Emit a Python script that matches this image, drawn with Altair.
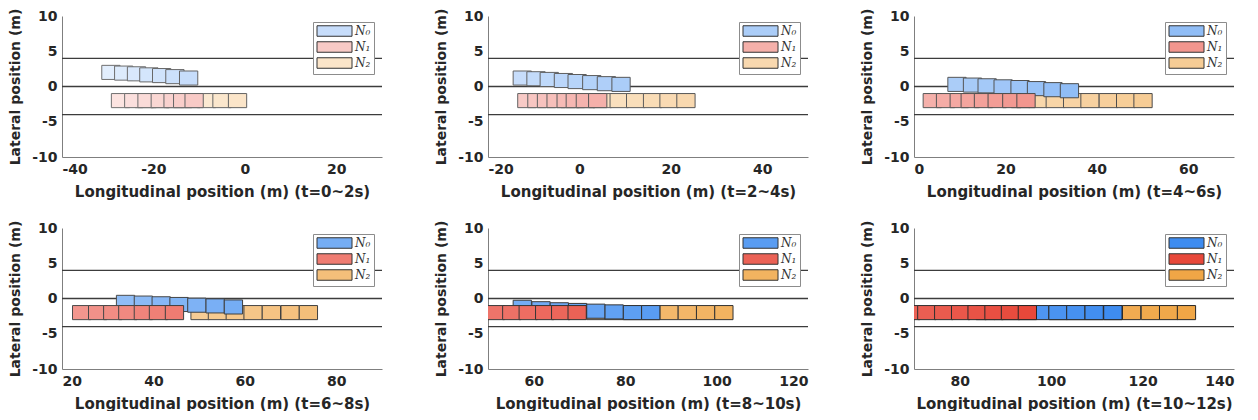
import altair as alt
import pandas as pd

# ---------------- data ----------------
time_labels = ["t=0~2s", "t=2~4s", "t=4~6s", "t=6~8s", "t=8~10s", "t=10~12s"]
x_min = [-40, -20, 0, 20, 50, 70]
x_max = [30, 50, 70, 90, 120, 140]
x_ticks = [[-40, -20, 0, 20], [-20, 0, 20, 40], [0, 20, 40, 60],
           [20, 40, 60, 80], [60, 80, 100, 120], [80, 100, 120, 140]]
y_ticks = [-10, -5, 0, 5, 10]
lane_lines = [4, 0, -4]
vehicle_names = ["N₀", "N₁", "N₂"]

# rear (left) longitudinal position of each snapshot, per panel
n0_rear_x = [
    [-31.3, -28.5, -25.7, -23.0, -20.2, -17.3, -14.3],
    [-14.5, -11.5, -8.6, -5.5, -2.5, 0.7, 3.9, 7.1],
    [7.4, 10.8, 14.0, 17.5, 21.2, 24.8, 28.4, 32.0],
    [31.9, 35.8, 39.7, 43.6, 47.5, 51.5, 55.5],
    [55.5, 59.6, 63.6, 67.6, 71.6, 75.6, 79.6, 83.6],
    [83.6, 87.5, 91.5, 95.5, 99.5, 103.4, 107.4, 111.5],
]
n0_center_y = [
    [2.0, 1.9, 1.8, 1.65, 1.55, 1.4, 1.2],
    [1.2, 1.1, 1.0, 0.85, 0.7, 0.55, 0.4, 0.3],
    [0.3, 0.2, 0.1, -0.05, -0.15, -0.3, -0.45, -0.6],
    [-0.55, -0.65, -0.75, -0.85, -0.95, -1.05, -1.2],
    [-1.25, -1.45, -1.6, -1.7, -1.8, -1.9, -2.0, -2.0],
    [-2.0, -2.0, -2.0, -2.0, -2.0, -2.0, -2.0, -2.0],
]
n1_rear_x = [
    [-29.2, -26.3, -23.4, -20.5, -17.7, -15.6, -13.1],
    [-13.5, -11.3, -9.2, -7.1, -4.9, -2.9, -0.7, 2.0],
    [2.0, 4.9, 7.9, 10.3, 13.2, 16.2, 19.4, 22.5],
    [22.3, 25.8, 29.1, 32.4, 35.8, 39.1, 42.6],
    [42.6, 46.1, 49.6, 53.2, 56.8, 60.4, 63.9, 67.5],
    [67.3, 70.8, 74.5, 78.2, 81.8, 85.5, 89.1, 92.8],
]
n2_rear_x = [
    [-24.0, -20.6, -17.2, -13.8, -10.4, -7.0, -3.6],
    [-4.0, -0.6, 3.0, 6.7, 10.3, 14.0, 17.6, 21.3],
    [21.3, 25.1, 28.9, 32.7, 36.5, 40.5, 44.3, 48.1],
    [48.2, 52.0, 55.9, 59.8, 63.8, 67.9, 71.9],
    [71.6, 75.6, 79.6, 83.6, 87.6, 91.6, 95.6, 99.6],
    [99.6, 103.6, 107.6, 111.6, 115.6, 119.7, 123.7, 127.6],
]
n1_center_y = -2.0
n2_center_y = -2.0

# ---------------- styles ----------------
VEH_LEN = 4.0
VEH_WID = 2.0
base_rgb = {"N₀": (62, 140, 240), "N₁": (232, 72, 58), "N₂": (240, 166, 70)}
draw_rank = {"N₂": 0, "N₀": 1, "N₁": 2}


def alpha_at(t):
    return 0.15 + 0.85 * t / 12.0


def blend(rgb, a):
    r, g, b = (int(round(c * a + 255 * (1 - a))) for c in rgb)
    return f"#{r:02x}{g:02x}{b:02x}"


def stroke_at(a):
    return blend((38, 38, 38), 0.6 + 0.4 * a)


rows = []
for p in range(6):
    series = [("N₀", n0_rear_x[p], n0_center_y[p]),
              ("N₁", n1_rear_x[p], [n1_center_y] * len(n1_rear_x[p])),
              ("N₂", n2_rear_x[p], [n2_center_y] * len(n2_rear_x[p]))]
    for name, xs, ys in series:
        n = len(xs)
        for k, (xr, yc) in enumerate(zip(xs, ys)):
            t = 2 * p + 2 * k / (n - 1)
            a = alpha_at(t)
            rows.append({
                "panel": p, "veh": name, "k": k, "final": k == n - 1,
                "x": xr, "x2": xr + VEH_LEN,
                "y": yc - VEH_WID / 2, "y2": yc + VEH_WID / 2,
                "fill": blend(base_rgb[name], a), "stroke": stroke_at(a),
                "order": k * 3 + draw_rank[name],
            })
boxes = pd.DataFrame(rows)

# legend patch: a 35 x 10.5 px rectangle, shifted right of the symbol anchor
LEGEND_PATH = "M-1,-1.05L6,-1.05L6,1.05L-1,1.05Z"


def make_panel(p):
    df = boxes[boxes["panel"] == p]
    t_end = 2 * (p + 1)
    a_end = alpha_at(t_end)
    final_colors = [blend(base_rgb[v], a_end) for v in vehicle_names]
    xs = alt.Scale(domain=[x_min[p], x_max[p]], nice=False, zero=False)
    ys = alt.Scale(domain=[-10, 10], nice=False, zero=False)
    xaxis = alt.Axis(values=x_ticks[p], labelExpr="'' + datum.value",
                     title=f"Longitudinal position (m) ({time_labels[p]})")
    yaxis = alt.Axis(values=y_ticks, labelExpr="'' + datum.value",
                     title="Lateral position (m)")

    rules = alt.Chart(pd.DataFrame({"y": lane_lines})).mark_rule(
        color="#3c3c3c", strokeWidth=1.3
    ).encode(y=alt.Y("y:Q", scale=ys, axis=yaxis))

    body = alt.Chart(df[~df["final"]]).mark_rect(clip=True, strokeWidth=1).encode(
        x=alt.X("x:Q", scale=xs, axis=xaxis), x2="x2:Q",
        y=alt.Y("y:Q", scale=ys, axis=yaxis), y2="y2:Q",
        fill=alt.Fill("fill:N", scale=None),
        stroke=alt.Stroke("stroke:N", scale=None),
        order=alt.Order("order:Q"),
    )

    last = alt.Chart(df[df["final"]]).mark_rect(
        clip=True, strokeWidth=1, stroke=stroke_at(a_end), opacity=1
    ).encode(
        x=alt.X("x:Q", scale=xs, axis=xaxis), x2="x2:Q",
        y=alt.Y("y:Q", scale=ys, axis=yaxis), y2="y2:Q",
        color=alt.Color("veh:N", scale=alt.Scale(domain=vehicle_names, range=final_colors),
                        legend=alt.Legend(
                            title=None, orient="none", legendX=251, legendY=6,
                            fillColor="white", strokeColor="#8c8c8c", padding=3,
                            symbolType=LEGEND_PATH, symbolSize=100,
                            symbolStrokeColor="#333333", symbolStrokeWidth=1,
                            symbolOpacity=1,
                            labelFont="DejaVu Serif", labelFontStyle="italic",
                            labelFontSize=12, labelColor="#333333",
                            labelOffset=27, rowPadding=0)),
    )
    return alt.layer(rules, body, last).properties(width=320, height=141)


row1 = alt.hconcat(*[make_panel(p) for p in range(3)], spacing=51).resolve_scale(color="independent")
row2 = alt.hconcat(*[make_panel(p) for p in range(3, 6)], spacing=51).resolve_scale(color="independent")

chart = alt.vconcat(row1, row2, spacing=21).resolve_scale(color="independent").properties(
    padding={"left": 0, "top": 0, "right": 0, "bottom": 0}
).configure_view(stroke=None).configure_axis(
    grid=False, ticks=False, domainColor="#7f7f7f", domainWidth=1,
    labelFont="DejaVu Sans", labelFontWeight="bold", labelFontSize=14, labelColor="#262626",
    titleFont="DejaVu Sans", titleFontWeight="bold", titleColor="#262626",
    labelPadding=5,
).configure_axisX(titleFontSize=15, titlePadding=8).configure_axisY(titleFontSize=14, titlePadding=9)

chart.save("out.html", embed_options={"renderer": "svg", "actions": False})
